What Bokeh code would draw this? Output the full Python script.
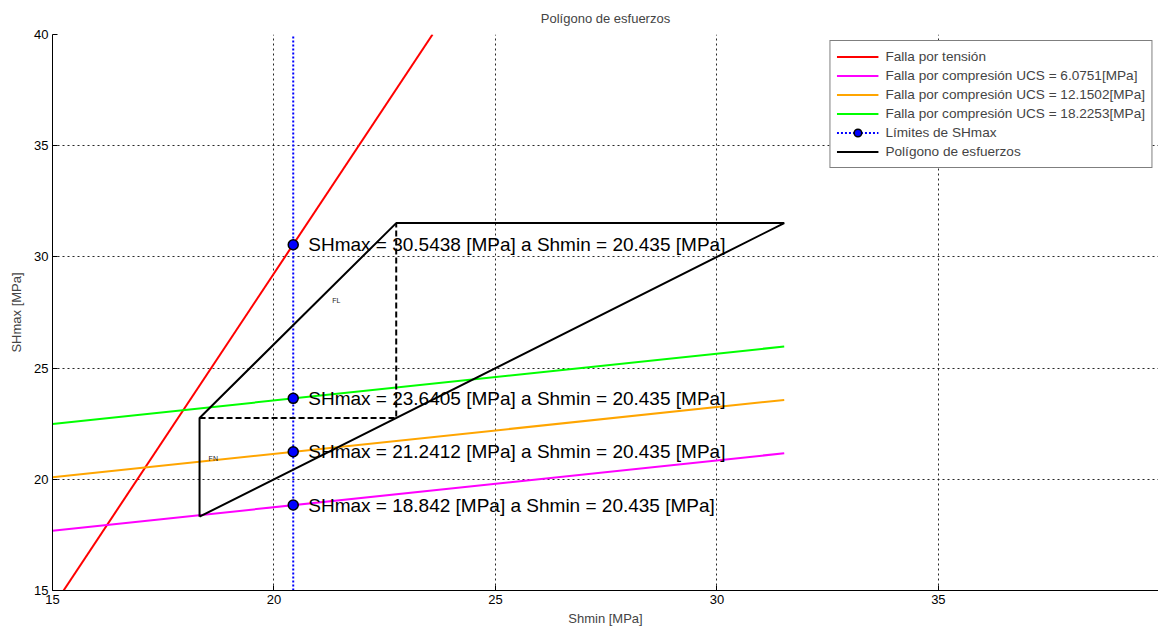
from bokeh.plotting import figure
from bokeh.models import Legend, LegendItem, FixedTicker, Range1d
from bokeh.core.properties import value
from bokeh.embed import file_html
from bokeh.resources import INLINE

# ---- data ----
ucs_x = [15.0, 31.52]
ucs_6 = [17.69, 21.17]      # UCS = 6.0751
ucs_12 = [20.09, 23.57]     # UCS = 12.1502
ucs_18 = [22.49, 25.97]     # UCS = 18.2253
tension_x = [15.25, 23.58]
tension_y = [15.0, 40.0]
shmin_point = 20.435
shmax_limits = [30.5438, 23.6405, 21.2412, 18.842]
limit_line_y = [15.0, 40.0]
polygon_x = [18.32, 18.32, 22.76, 31.52, 18.32]
polygon_y = [18.32, 22.76, 31.52, 31.52, 18.32]
dashed_x = [18.32, 22.76, 22.76]
dashed_y = [22.76, 22.76, 31.52]
regime_labels = ["FN", "FL"]
regime_x = [18.63, 21.41]
regime_y = [20.92, 28.02]
x_ticks = [15, 20, 25, 30, 35, 40]
y_ticks = [15, 20, 25, 30, 35, 40]
legend_labels = [
    "Falla por tensión",
    "Falla por compresión UCS = 6.0751[MPa]",
    "Falla por compresión UCS = 12.1502[MPa]",
    "Falla por compresión UCS = 18.2253[MPa]",
    "Límites de SHmax",
    "Polígono de esfuerzos",
]

FONT = "Liberation Sans"

p = figure(width=1158, height=629, output_backend="svg", toolbar_location=None,
           x_range=Range1d(15, 39.97), y_range=Range1d(15, 40),
           title="Polígono de esfuerzos",
           min_border_left=52, min_border_right=0, min_border_top=33, min_border_bottom=39)
p.outline_line_color = None
p.background_fill_color = "white"
p.border_fill_color = "white"

p.title.align = "center"
p.title.text_font = FONT
p.title.text_font_size = "13px"
p.title.text_font_style = "normal"
p.title.offset = 0
p.title.standoff = 17

for ax in (p.xaxis[0], p.yaxis[0]):
    ax.major_label_text_font = FONT
    ax.major_label_text_font_size = "13px"
    ax.major_label_text_color = "black"
    ax.axis_label_text_font = FONT
    ax.axis_label_text_font_size = "13px"
    ax.axis_label_text_font_style = "normal"
    ax.axis_line_color = "black"
    ax.major_tick_line_color = "black"
    ax.major_tick_in = 5
    ax.major_tick_out = 0
    ax.minor_tick_line_color = None
p.xaxis.ticker = FixedTicker(ticks=x_ticks)
p.yaxis.ticker = FixedTicker(ticks=y_ticks)
p.xaxis.axis_label = "Shmin [MPa]"
p.yaxis.axis_label = "SHmax [MPa]"
p.xaxis.major_label_standoff = 4
p.yaxis.major_label_standoff = 4
p.xaxis.axis_label_standoff = 4
p.yaxis.axis_label_standoff = 7

for g in (p.xgrid[0], p.ygrid[0]):
    g.grid_line_color = "#111111"
    g.grid_line_dash = "2 3"
    g.grid_line_width = 1
    g.grid_line_alpha = 0.9
p.xgrid.ticker = FixedTicker(ticks=x_ticks)
p.ygrid.ticker = FixedTicker(ticks=y_ticks)

r_t = p.line(tension_x, tension_y, line_color="#ff0000", line_width=2)
r_6 = p.line(ucs_x, ucs_6, line_color="#ff00ff", line_width=2)
r_12 = p.line(ucs_x, ucs_12, line_color="#ffa500", line_width=2)
r_18 = p.line(ucs_x, ucs_18, line_color="#00ff00", line_width=2)

r_vl = p.line([shmin_point, shmin_point], limit_line_y, line_color="#0000ff",
              line_width=2, line_dash="2 2")
r_pts = p.scatter([shmin_point] * len(shmax_limits), shmax_limits, size=10,
                  fill_color="#0000ff", line_color="black", line_width=1.5)

r_poly = p.line(polygon_x, polygon_y, line_color="black", line_width=2)
p.line(dashed_x, dashed_y, line_color="black", line_width=2, line_dash="6 3")

texts = ["SHmax = %s [MPa] a Shmin = %s [MPa]" % (v, shmin_point) for v in shmax_limits]
p.text([shmin_point] * len(shmax_limits), shmax_limits, text=texts, x_offset=15,
       text_baseline="middle", text_align="left", text_font=value(FONT),
       text_font_size="19px", text_color="black")

p.text(regime_x, regime_y, text=regime_labels, text_baseline="middle", text_align="center",
       text_font=value(FONT), text_font_size="7px", text_color="#222222")

legend = Legend(items=[
    LegendItem(label=legend_labels[0], renderers=[r_t]),
    LegendItem(label=legend_labels[1], renderers=[r_6]),
    LegendItem(label=legend_labels[2], renderers=[r_12]),
    LegendItem(label=legend_labels[3], renderers=[r_18]),
    LegendItem(label=legend_labels[4], renderers=[r_vl, r_pts]),
    LegendItem(label=legend_labels[5], renderers=[r_poly]),
], location="top_right")
legend.label_text_font = FONT
legend.label_text_font_size = "13.6px"
legend.label_height = 19
legend.glyph_height = 19
legend.glyph_width = 42
legend.spacing = 0
legend.padding = 6
legend.margin = 6
legend.label_standoff = 7
legend.border_line_color = "black"
legend.border_line_width = 1
legend.background_fill_alpha = 1
p.add_layout(legend)

open("out.html", "w").write(file_html(p, INLINE))
